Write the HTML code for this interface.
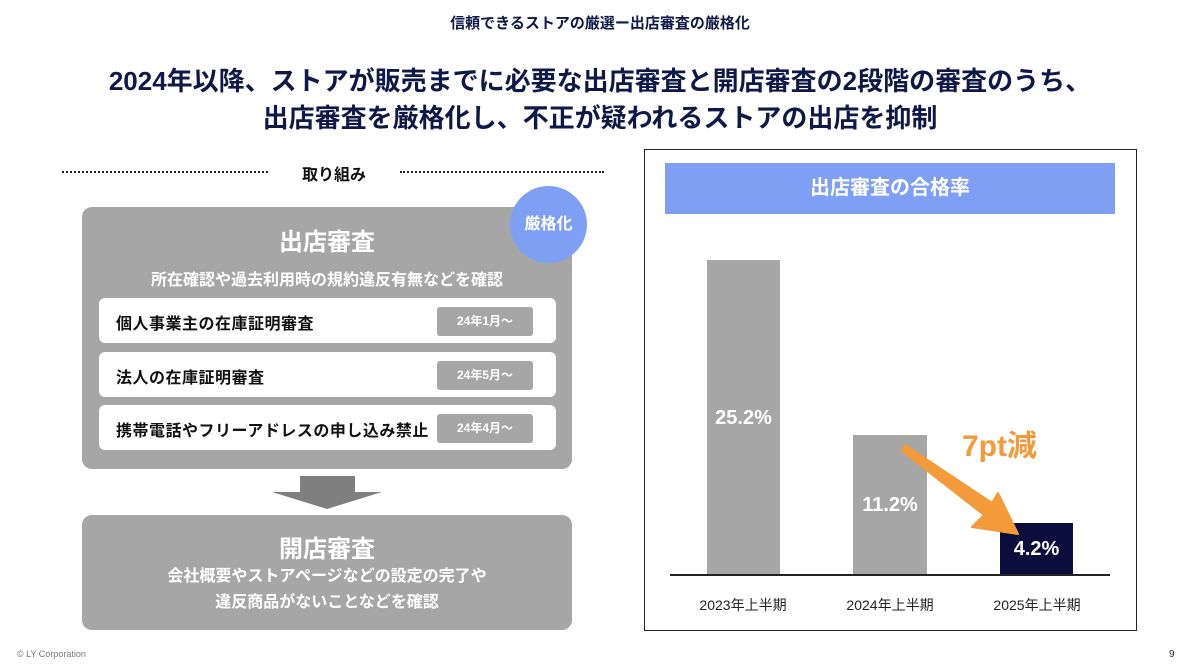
<!DOCTYPE html>
<html><head><meta charset="utf-8"><style>
body{margin:0;width:1200px;height:672px;background:#fff;position:relative;overflow:hidden;font-family:"Liberation Sans","Noto Sans CJK JP",sans-serif;}
.a{position:absolute;}
.c{text-align:center;}
.b{font-weight:bold;}
.row{position:absolute;left:99px;width:457px;height:45px;background:#fff;border-radius:6px;}
.row span{position:absolute;left:17px;top:12px;font-size:16px;letter-spacing:0.5px;font-weight:bold;color:#111;}
.tag{position:absolute;left:338px;top:9px;width:96px;height:29px;background:#a6a6a6;border-radius:3px;color:#fff;font-size:12px;font-weight:bold;text-align:center;line-height:29px;}
</style></head><body>
<div class="a c b" style="left:0;width:1200px;top:12px;font-size:15px;color:#0f1846;">信頼できるストアの厳選ー出店審査の厳格化</div>
<div class="a c b" style="left:0;width:1200px;top:63px;font-size:26px;line-height:37px;color:#0f1846;">2024年以降、ストアが販売までに必要な出店審査と開店審査の2段階の審査のうち、<br>出店審査を厳格化し、不正が疑われるストアの出店を抑制</div>
<div class="a" style="left:62px;top:171px;width:206px;border-top:2px dotted #222;"></div>
<div class="a" style="left:400px;top:171px;width:204px;border-top:2px dotted #222;"></div>
<div class="a c b" style="left:280px;width:108px;top:161px;font-size:16px;color:#111;">取り組み</div>

<div class="a" style="left:82px;top:207px;width:490px;height:262px;background:#a6a6a6;border-radius:10px;"></div>
<div class="a c b" style="left:82px;width:490px;top:222px;font-size:24px;color:#fff;">出店審査</div>
<div class="a c b" style="left:82px;width:490px;top:266px;font-size:16px;color:#fff;">所在確認や過去利用時の規約違反有無などを確認</div>
<div class="a c b" style="left:510px;top:186px;width:77px;height:77px;border-radius:50%;background:#7f9ff5;color:#fff;font-size:16px;line-height:77px;">厳格化</div>
<div class="row" style="top:298px;"><span>個人事業主の在庫証明審査</span><div class="tag">24年1月～</div></div>
<div class="row" style="top:352px;"><span>法人の在庫証明審査</span><div class="tag">24年5月～</div></div>
<div class="row" style="top:405px;"><span>携帯電話やフリーアドレスの申し込み禁止</span><div class="tag">24年4月～</div></div>

<svg class="a" style="left:0;top:0" width="1200" height="672">
<polygon points="300,476 355,476 355,492 382,492 327,509 272,492 300,492" fill="#7f7f7f"/>
</svg>

<div class="a" style="left:82px;top:515px;width:490px;height:115px;background:#a6a6a6;border-radius:10px;"></div>
<div class="a c b" style="left:82px;width:490px;top:529px;font-size:24px;color:#fff;">開店審査</div>
<div class="a c b" style="left:82px;width:490px;top:564px;font-size:16px;line-height:26px;color:#fff;">会社概要やストアページなどの設定の完了や<br>違反商品がないことなどを確認</div>

<div class="a" style="left:644px;top:149px;width:491px;height:480px;border:1.5px solid #222;"></div>
<div class="a c b" style="left:665px;top:163px;width:450px;height:51px;background:#7f9ff5;color:#fff;font-size:20px;line-height:51px;">出店審査の合格率</div>
<div class="a" style="left:707px;top:260px;width:73px;height:315px;background:#a6a6a6;"></div>
<div class="a" style="left:853px;top:435px;width:74px;height:140px;background:#a6a6a6;"></div>
<div class="a" style="left:1000px;top:523px;width:73px;height:52px;background:#0b0d3d;"></div>
<div class="a" style="left:670px;top:574px;width:440px;height:2px;background:#222;"></div>
<div class="a c b" style="left:697px;width:93px;top:407px;font-size:20px;color:#fff;">25.2%</div>
<div class="a c b" style="left:843px;width:94px;top:494px;font-size:20px;color:#fff;">11.2%</div>
<div class="a c b" style="left:990px;width:93px;top:538px;font-size:20px;color:#fff;">4.2%</div>
<div class="a c" style="left:683px;width:120px;top:595px;font-size:14px;color:#222;">2023年上半期</div>
<div class="a c" style="left:830px;width:120px;top:595px;font-size:14px;color:#222;">2024年上半期</div>
<div class="a c" style="left:977px;width:120px;top:595px;font-size:14px;color:#222;">2025年上半期</div>
<div class="a b" style="left:962px;top:421px;font-size:30px;color:#f39a3a;">7pt減</div>
<svg class="a" style="left:0;top:0" width="1200" height="672">
<polygon points="905,445 992,503 998,493 1018,534 972,527 984,515 902,451" fill="#f39a3a" stroke="#f39a3a" stroke-width="2" stroke-linejoin="round"/>
</svg>
<div class="a" style="left:17px;top:649px;font-size:9px;color:#777;">© LY Corporation</div>
<div class="a" style="left:1169px;top:649px;font-size:10px;color:#333;">9</div>
</body></html>
